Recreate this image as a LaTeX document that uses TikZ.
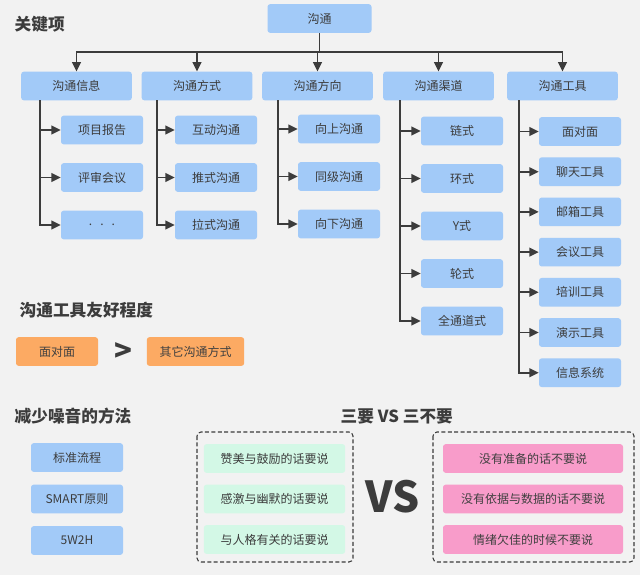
\documentclass[tikz,border=0pt]{standalone}
\usepackage{fontspec}
\setmainfont{Noto Sans CJK SC}
\usepackage{xcolor}
\usepackage{tikz}
\usetikzlibrary{arrows.meta}

\definecolor{bggray}{HTML}{F2F2F2}
\definecolor{boxblue}{HTML}{A2CAF8}
\definecolor{boxorange}{HTML}{FCAA63}
\definecolor{boxgreen}{HTML}{D3F8E6}
\definecolor{boxpink}{HTML}{F89CCA}
\definecolor{txtgray}{HTML}{3C3C3C}

\tikzset{
  card/.style={rounded corners=2pt, inner sep=0pt, minimum height=21.5pt,
               font=\fontsize{9}{10}\selectfont, text=txtgray},
  mainbox/.style={card, fill=boxblue, minimum width=83pt},
  subbox/.style={card, fill=boxblue, minimum width=61.5pt},
  heading/.style={anchor=west, font=\fontsize{12.5}{14}\selectfont\bfseries, text=txtgray},
  link/.style={draw=txtgray, line width=1.4pt, -{Triangle[length=7pt,width=6.5pt]}},
  frame/.style={draw=txtgray, dash pattern=on 3pt off 1.8pt, line width=0.8pt, rounded corners=3pt}
}

\begin{document}
\begin{tikzpicture}[x=0.75pt, y=-0.75pt]
  \fill[bggray] (0,0) rectangle (640,575);
  \useasboundingbox (0,0) rectangle (640,575);

  % key items tree
  \node[heading] (t1) at (10,24) {关键项};
  \node[card, fill=boxblue, minimum width=78pt] (top) at (319.5,18.5) {沟通};
  \coordinate (bus) at (318,52);

  \foreach \x/\xtext [count=\i] in {76.5/沟通信息, 197/沟通方式, 317.5/沟通方向, 438.5/沟通渠道, 562.5/沟通工具}
    \node[mainbox] (c\i) at (\x,86) {\xtext};
  \draw[line width=1.4pt, txtgray] (top.south) -- (top.south |- bus);
  \foreach \i in {1,...,5}
    \draw[link] (top.south |- bus) -| (c\i.north);

  \coordinate (r1) at (40,100);
  \coordinate (r2) at (157,100);
  \coordinate (r3) at (278,100);
  \coordinate (r4) at (400,100);
  \coordinate (r5) at (519,100);

  \foreach \ytext [count=\i] in {项目报告, 评审会议, {.\ \ \ .\ \ \ .}}
    \node[subbox] (a\i) at (102,130+47.5*\i-47.5) {\ytext};
  \foreach \ytext [count=\i] in {互动沟通, 推式沟通, 拉式沟通}
    \node[subbox] (b\i) at (216,130+47.5*\i-47.5) {\ytext};
  \foreach \ytext [count=\i] in {向上沟通, 同级沟通, 向下沟通}
    \node[subbox] (d\i) at (339,129+47.5*\i-47.5) {\ytext};
  \foreach \ytext [count=\i] in {链式, 环式, Y式, 轮式, 全通道式}
    \node[subbox] (e\i) at (462,131+47.5*\i-47.5) {\ytext};
  \foreach \ytext [count=\i] in {面对面, 聊天工具, 邮箱工具, 会议工具, 培训工具, 演示工具, 信息系统}
    \node[subbox] (f\i) at (580,131.5+40.2*\i-40.2) {\ytext};

  \foreach \i in {1,2,3} \draw[link] (r1) |- (a\i.west);
  \foreach \i in {1,2,3} \draw[link] (r2) |- (b\i.west);
  \foreach \i in {1,2,3} \draw[link] (r3) |- (d\i.west);
  \foreach \i in {1,...,5} \draw[link] (r4) |- (e\i.west);
  \foreach \i in {1,...,7} \draw[link] (r5) |- (f\i.west);

  % friendliness of tools
  \node[heading] (t2) at (15,310) {沟通工具友好程度};
  \node[card, fill=boxorange, minimum width=61.5pt, text=black!75] (o1) at (57,351.5) {面对面};
  \node[font=\fontsize{22}{22}\selectfont\bfseries, text=txtgray] (gt) at (123,352) {>};
  \node[card, fill=boxorange, minimum width=73pt, text=black!75] (o2) at (195.5,351.5) {其它沟通方式};

  % noise
  \node[heading] (t3) at (10,416) {减少噪音的方法};
  \foreach \ytext [count=\i] in {标准流程, SMART原则, 5W2H}
    \node[card, fill=boxblue, minimum width=69pt] (n\i) at (77,457.5+41.5*\i-41.5) {\ytext};

  % three do vs three don't
  \node[heading] (t4) at (336,416) {三要 VS 三不要};
  \draw[frame] (197,432) rectangle (353,562);
  \draw[frame] (433,432) rectangle (634,562);
  \foreach \ytext [count=\i] in {赞美与鼓励的话要说, 感激与幽默的话要说, 与人格有关的话要说}
    \node[card, fill=boxgreen, minimum width=106pt] (g\i) at (274.5,458.5+40.5*\i-40.5) {\ytext};
  \foreach \ytext [count=\i] in {没有准备的话不要说, 没有依据与数据的话不要说, 情绪欠佳的时候不要说}
    \node[card, fill=boxpink, minimum width=135pt, text=black!75] (p\i) at (533,458.5+40.5*\i-40.5) {\ytext};
  \node[font=\fontsize{32}{32}\selectfont\bfseries, text=txtgray] (vs) at (392.5,497) {VS};
\end{tikzpicture}
\end{document}
